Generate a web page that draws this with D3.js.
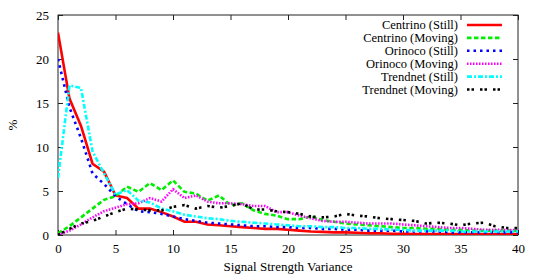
<!DOCTYPE html>
<html lang="en">
<head>
  <meta charset="UTF-8">
  <title>Signal Strength Variance</title>
  <style>
    body { margin: 0; background: #fff; }
  </style>
</head>
<body>
  <div id="chart"></div>
  <script src="https://d3js.org/d3.v7.min.js"></script>
  <script>
    // values per variance bin 0..40
    let xs = d3.range(0, 41)
    let xTicks = [0, 5, 10, 15, 20, 25, 30, 35, 40]
    let yTicks = [0, 5, 10, 15, 20, 25]

    let centrinoStill = [23, 15.5, 12.4, 8.1, 7.2, 4.5, 4.2, 3.0, 3.0, 2.6, 2.1, 1.5, 1.5, 1.2, 1.1, 1.0, 0.9, 0.8, 0.7, 0.7, 0.6, 0.5, 0.4, 0.35, 0.3, 0.3, 0.25, 0.2, 0.2, 0.15, 0.15, 0.1, 0.1, 0.1, 0.1, 0.1, 0.1, 0.1, 0.1, 0.1, 0.1]
    let centrinoMoving = [0.2, 1.0, 2.0, 3.0, 4.0, 4.4, 5.5, 4.9, 5.9, 5.1, 6.2, 4.9, 4.7, 3.9, 4.5, 3.4, 3.6, 2.8, 2.4, 2.2, 1.8, 1.8, 2.1, 1.7, 1.5, 1.3, 1.2, 1.1, 1.0, 0.9, 0.8, 0.8, 0.7, 0.7, 0.6, 0.6, 0.5, 0.5, 0.5, 0.5, 0.5]
    let orinocoStill = [20, 14.5, 11, 7.0, 5.8, 4.4, 3.5, 2.7, 2.6, 2.4, 2.1, 1.8, 1.6, 1.4, 1.3, 1.2, 1.1, 1.0, 1.0, 0.9, 0.9, 0.8, 0.8, 0.7, 0.7, 0.6, 0.6, 0.5, 0.5, 0.5, 0.4, 0.4, 0.4, 0.4, 0.3, 0.3, 0.3, 0.3, 0.3, 0.3, 0.3]
    let orinocoMoving = [0, 0.5, 1.2, 2.0, 2.7, 3.1, 3.5, 3.6, 4.2, 3.8, 5.2, 4.2, 4.5, 3.8, 3.6, 3.6, 3.5, 3.3, 3.3, 2.6, 2.6, 2.2, 1.9, 1.6, 1.5, 1.5, 1.4, 1.3, 1.3, 1.3, 1.2, 1.1, 1.0, 0.9, 0.8, 0.8, 0.7, 0.6, 0.6, 0.55, 0.55]
    let trendnetStill = [6.5, 17, 16.7, 9.5, 7.0, 4.6, 5.1, 3.9, 3.7, 3.0, 2.7, 2.3, 2.1, 1.9, 1.8, 1.6, 1.5, 1.4, 1.3, 1.2, 1.1, 1.0, 1.0, 0.9, 0.9, 0.8, 0.8, 0.7, 0.7, 0.6, 0.6, 0.5, 0.5, 0.5, 0.5, 0.4, 0.4, 0.4, 0.4, 0.4, 0.4]
    let trendnetMoving = [0, 0.7, 1.3, 1.6, 2.1, 2.6, 3.0, 2.9, 2.8, 2.8, 3.2, 3.4, 3.0, 3.3, 3.1, 3.3, 3.6, 2.9, 2.9, 2.7, 2.6, 2.4, 2.1, 2.0, 2.1, 2.4, 2.2, 2.1, 1.9, 1.8, 1.7, 1.6, 1.3, 1.4, 1.3, 1.1, 1.3, 1.4, 1.0, 0.8, 0.8]

    let seriesNames = ['Centrino (Still)', 'Centrino (Moving)', 'Orinoco (Still)', 'Orinoco (Moving)', 'Trendnet (Still)', 'Trendnet (Moving)']
    let seriesValues = [centrinoStill, centrinoMoving, orinocoStill, orinocoMoving, trendnetStill, trendnetMoving]
    let colors = ['#ff0000', '#00ee00', '#0000ff', '#ff00ff', '#00ffff', '#000000']
    let dashes = [null, '4.5,2.5', '2.5,4', '1.5,1.5', '5,2,2,2', '2.5,2,2.5,6']

    let FONT = "'Liberation Serif', 'Times New Roman', 'DejaVu Serif', serif"

    let W = 540, H = 274
    let m = { left: 58, right: 22, top: 15, bottom: 39 }
    let w = W - m.left - m.right
    let h = H - m.top - m.bottom

    let svg = d3.select('#chart').append('svg')
      .attr('width', W)
      .attr('height', H)
      .attr('font-family', FONT)
      .attr('font-size', 13)

    let g = svg.append('g').attr('transform', `translate(${m.left}, ${m.top})`)

    let x = d3.scaleLinear().domain([0, 40]).range([0, w])
    let y = d3.scaleLinear().domain([0, 25]).range([h, 0])

    // axes, ticks pointing inward on all four sides
    let axisStyle = sel => {
      sel.attr('font-family', FONT).attr('font-size', 13)
      sel.select('.domain').remove()
      sel.selectAll('line').attr('stroke', '#222')
      sel.selectAll('text').attr('fill', '#000')
    }
    g.append('g').attr('transform', `translate(0, ${h})`)
      .call(d3.axisBottom(x).tickValues(xTicks).tickSizeInner(-5).tickSizeOuter(0).tickPadding(9))
      .call(axisStyle)
    g.append('g')
      .call(d3.axisTop(x).tickValues(xTicks).tickSizeInner(-5).tickSizeOuter(0).tickFormat(''))
      .call(axisStyle)
    g.append('g')
      .call(d3.axisLeft(y).tickValues(yTicks).tickSizeInner(-5).tickSizeOuter(0).tickPadding(9))
      .call(axisStyle)
    g.append('g').attr('transform', `translate(${w}, 0)`)
      .call(d3.axisRight(y).tickValues(yTicks).tickSizeInner(-5).tickSizeOuter(0).tickFormat(''))
      .call(axisStyle)

    g.append('rect')
      .attr('width', w).attr('height', h)
      .attr('fill', 'none').attr('stroke', '#222').attr('stroke-width', 1)

    g.append('clipPath').attr('id', 'clip')
      .append('rect').attr('width', w).attr('height', h)

    let line = d3.line()
      .x((d, i) => x(xs[i]))
      .y(d => y(d))

    let lines = g.append('g').attr('clip-path', 'url(#clip)')
    seriesValues.forEach((vals, i) => {
      lines.append('path')
        .datum(vals)
        .attr('d', line)
        .attr('fill', 'none')
        .attr('stroke', colors[i])
        .attr('stroke-width', 2.6)
        .attr('stroke-dasharray', dashes[i])
    })

    // legend
    let legend = svg.append('g').attr('transform', 'translate(0, 25)')
    seriesNames.forEach((name, i) => {
      let row = legend.append('g').attr('transform', `translate(0, ${i * 12.9})`)
      row.append('text')
        .attr('x', 458)
        .attr('y', 4)
        .attr('font-size', 12.5)
        .attr('text-anchor', 'end')
        .text(name)
      row.append('line')
        .attr('x1', 467).attr('x2', 502)
        .attr('y1', 0).attr('y2', 0)
        .attr('stroke', colors[i])
        .attr('stroke-width', 2.6)
        .attr('stroke-dasharray', dashes[i])
    })

    // axis titles
    svg.append('text')
      .attr('x', m.left + w / 2)
      .attr('y', 271)
      .attr('text-anchor', 'middle')
      .text('Signal Strength Variance')

    svg.append('text')
      .attr('transform', 'translate(17, 125) rotate(-90)')
      .attr('text-anchor', 'middle')
      .text('%')
  </script>
</body>
</html>
